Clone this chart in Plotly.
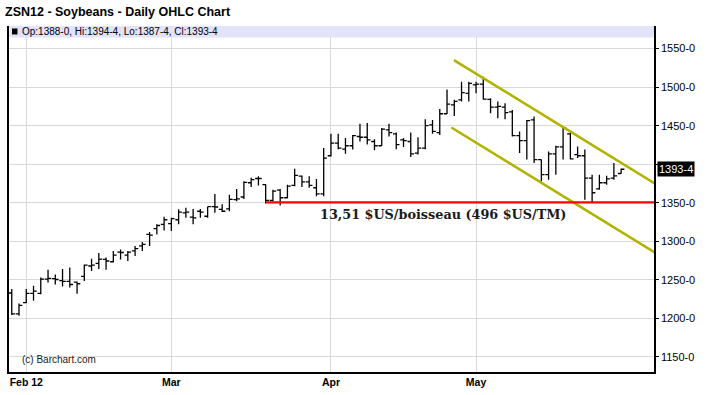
import plotly.graph_objects as go

# ---- data -------------------------------------------------------------
dates = (["2012-01-%02d" % d for d in [30, 31]]
         + ["2012-02-%02d" % d for d in [1, 2, 3, 6, 7, 8, 9, 10, 13, 14, 15, 16, 17, 21, 22, 23, 24, 27, 28, 29]]
         + ["2012-03-%02d" % d for d in [1, 2, 5, 6, 7, 8, 9, 12, 13, 14, 15, 16, 19, 20, 21, 22, 23, 26, 27, 28, 29, 30]]
         + ["2012-04-%02d" % d for d in [2, 3, 4, 5, 9, 10, 11, 12, 13, 16, 17, 18, 19, 20, 23, 24, 25, 26, 27, 30]]
         + ["2012-05-%02d" % d for d in [1, 2, 3, 4, 7, 8, 9, 10, 11, 14, 15, 16, 17, 18, 21, 22, 23, 24, 25, 29, 30]])

opens = [1233, 1206, 1220.5, 1232.5, 1232.5, 1251, 1251.5, 1249, 1248, 1247,
         1254.5, 1268, 1271.5, 1276.5, 1273.5, 1286, 1282, 1287.5, 1294, 1309,
         1316.5, 1322, 1323, 1328, 1337, 1331.5, 1339, 1332.5, 1345, 1341.5,
         1342, 1354, 1357.5, 1376, 1381.5, 1373.5, 1353, 1366.5, 1356.5, 1372.5,
         1384.5, 1377, 1369.5, 1361.5, 1411, 1427.5, 1419.5, 1424, 1436, 1435,
         1429.5, 1424, 1444.5, 1439.5, 1431.5, 1429.5, 1414.5, 1421, 1451, 1441,
         1465.5, 1477, 1483.5, 1492, 1503, 1504, 1484, 1474, 1474, 1468,
         1437, 1430.5, 1457.5, 1406, 1386.5, 1413.5, 1422.5, 1439.5, 1412.5, 1411,
         1382, 1368, 1376, 1382, 1388]
highs = [1238, 1219.5, 1238, 1242.5, 1253, 1263, 1257, 1264, 1266, 1248,
         1270, 1277.5, 1285, 1279, 1287.5, 1289.5, 1287.5, 1294, 1299, 1312,
         1322, 1332, 1330.5, 1341.5, 1343.5, 1342, 1342, 1345, 1361.5, 1348,
         1360.5, 1368, 1378, 1382.5, 1384.5, 1374, 1367, 1368, 1373.5, 1394,
         1385.5, 1384.5, 1381, 1421, 1439.5, 1439.5, 1434, 1438, 1452.5, 1453.5,
         1432.5, 1447, 1452.5, 1441, 1434, 1441, 1435, 1458.5, 1457.5, 1471.5,
         1497, 1483.5, 1507, 1507, 1507, 1513.5, 1485.5, 1481.5, 1479, 1470.5,
         1442.5, 1457.5, 1462, 1406, 1416.5, 1424, 1449, 1440.5, 1423, 1419,
         1386.5, 1386.5, 1385, 1401.5, 1394.5]
lows = [1204.5, 1203.5, 1220, 1223, 1231.5, 1246.5, 1244, 1241.5, 1240, 1232,
        1248.5, 1261.5, 1264, 1263, 1272.5, 1276.5, 1274.5, 1281, 1287.5, 1294,
        1309, 1314, 1313.5, 1322, 1330.5, 1322, 1330.5, 1330.5, 1337, 1338,
        1339, 1352, 1355, 1370.5, 1372.5, 1349, 1352, 1346.5, 1356, 1371.5,
        1370.5, 1369.5, 1358.5, 1358.5, 1410, 1419.5, 1413.5, 1419, 1429.5, 1425.5,
        1418, 1424, 1436, 1419.5, 1422.5, 1409.5, 1412.5, 1419.5, 1439.5, 1438,
        1465, 1462.5, 1481.5, 1481.5, 1492, 1483.5, 1466, 1459.5, 1458.5, 1436,
        1414.5, 1406, 1401.5, 1378, 1380, 1386.5, 1406, 1406, 1408, 1354,
        1350, 1367, 1373.5, 1380, 1387.5]
closes = [1206, 1217, 1232.5, 1235.5, 1251, 1252, 1250.5, 1248, 1244, 1245,
          1269, 1269, 1277, 1274.5, 1282, 1285.5, 1286, 1290.5, 1296, 1308,
          1320.5, 1328, 1329.5, 1338, 1338, 1330.5, 1338, 1345, 1344.5, 1339,
          1354.5, 1355, 1376.5, 1380, 1381.5, 1353, 1365, 1356.5, 1371.5, 1385.5,
          1377, 1372.5, 1361.5, 1408, 1427.5, 1421, 1424, 1437, 1435, 1431.5,
          1424, 1445.5, 1441, 1425.5, 1430.5, 1413.5, 1421, 1450, 1442.5, 1465.5,
          1478, 1481.5, 1493, 1505, 1504, 1484.5, 1474, 1475, 1467, 1437,
          1430.5, 1456.5, 1406, 1386.5, 1413.5, 1422.5, 1447, 1407, 1411, 1382,
          1363, 1376, 1381, 1385, 1393.5]

y_ticks = [1150, 1200, 1250, 1300, 1350, 1400, 1450, 1500, 1550]
y_tick_text = ["1150-0", "1200-0", "1250-0", "1300-0", "1350-0", "", "1450-0", "1500-0", "1550-0"]
month_labels = ["Feb 12", "Mar", "Apr", "May"]

# drawn trend channel (bar index, price)
channel_upper = [(60.95, 1535.1), (89.5, 1370.0)]
channel_lower = [(60.6, 1447.7), (89.5, 1280.6)]
support_level = 1350.5
support_start = 35
support_label = "13,51 $US/boisseau (496 $US/TM)"
support_label_pos = (59.4, 1334.2)

last_label = "1393-4"
legend_text = "Op:1388-0, Hi:1394-4, Lo:1387-4, Cl:1393-4"
title_text = "ZSN12 - Soybeans - Daily OHLC Chart"

# ---- figure -----------------------------------------------------------
W, H = 710, 395
ML, MR, MT, MB = 7, 56, 26, 22
PW, PH = W - ML - MR, H - MT - MB

xs = list(range(len(dates)))
month_idx = []
for i, d in enumerate(dates):
    if d.startswith("2012-01"):
        continue
    if i == 0 or d[:7] != dates[i - 1][:7]:
        month_idx.append(i)

fig = go.Figure()
fig.add_trace(go.Ohlc(
    x=xs, open=opens, high=highs, low=lows, close=closes,
    increasing=dict(line=dict(color="black", width=1.3)),
    decreasing=dict(line=dict(color="black", width=1.3)),
    tickwidth=0.45, hoverinfo="skip", showlegend=False))

for pts in (channel_upper, channel_lower):
    fig.add_trace(go.Scatter(x=[p[0] for p in pts], y=[p[1] for p in pts], mode="lines",
                             line=dict(color="#b2b200", width=2.5), hoverinfo="skip",
                             showlegend=False))
fig.add_trace(go.Scatter(x=[support_start, 89.5], y=[support_level, support_level], mode="lines",
                         line=dict(color="#ff0000", width=2.2), hoverinfo="skip", showlegend=False))

fig.add_annotation(x=support_label_pos[0], y=support_label_pos[1], text="<b>" + support_label + "</b>",
                   showarrow=False, font=dict(family="DejaVu Serif, serif", size=12.8, color="#1a1a1a"))

def py(ypix):
    return 1 - (ypix - MT) / PH

def px(xpix):
    return (xpix - ML) / PW

shapes = [
    dict(type="rect", xref="paper", yref="paper", x0=px(7.6), x1=1, y0=py(37.5), y1=1,
         fillcolor="#e2e2f8", line=dict(width=0), layer="above"),
    dict(type="rect", xref="paper", yref="paper", x0=px(10), x1=px(15.5), y0=py(34.5), y1=py(28.5),
         fillcolor="black", line=dict(width=0), layer="above"),
]
fig.update_layout(shapes=shapes)

fig.add_annotation(xref="paper", yref="paper", x=px(18.5), y=py(32), xanchor="left", yanchor="middle",
                   text=legend_text, showarrow=False,
                   font=dict(family="Liberation Sans", size=10, color="black"))
fig.add_annotation(xref="paper", yref="paper", x=px(18), y=py(360), xanchor="left", yanchor="middle",
                   text="(c) Barchart.com", showarrow=False,
                   font=dict(family="Liberation Sans", size=10, color="#222"))
fig.add_annotation(xref="paper", yref="y", x=px(657.5), y=1393.5, xanchor="left", yanchor="middle",
                   text=last_label, showarrow=False, bgcolor="black", borderpad=1,
                   font=dict(family="Liberation Sans", size=11, color="white"))

fig.update_layout(
    width=W, height=H, margin=dict(l=ML, r=MR, t=MT, b=MB),
    paper_bgcolor="white", plot_bgcolor="white",
    title=dict(text=title_text, x=5 / W, xanchor="left", xref="container",
               y=1 - 12 / H, yanchor="middle", yref="container",
               font=dict(family="Liberation Sans", size=12.5, color="black", weight="bold")),
    hovermode=False, showlegend=False,
    xaxis=dict(range=[-0.38, 88.53], tickvals=month_idx, ticktext=month_labels,
               showgrid=True, gridcolor="#d9d9d9", gridwidth=1, zeroline=False,
               showline=True, linecolor="black", linewidth=1.5, ticks="", ticklen=0,
               rangeslider=dict(visible=False),
               tickfont=dict(family="Liberation Sans", size=10.5, color="black", weight="bold"),
               fixedrange=True),
    yaxis=dict(range=[1130.5, 1579.3], side="right", tickvals=y_ticks, ticktext=y_tick_text,
               showgrid=True, gridcolor="#d9d9d9", gridwidth=1, zeroline=False,
               showline=True, mirror=True, linecolor="black", linewidth=1.5,
               ticks="outside", ticklen=3, tickcolor="black",
               tickfont=dict(family="Liberation Sans", size=11, color="black"),
               fixedrange=True),
)

fig.write_html("out.html")
